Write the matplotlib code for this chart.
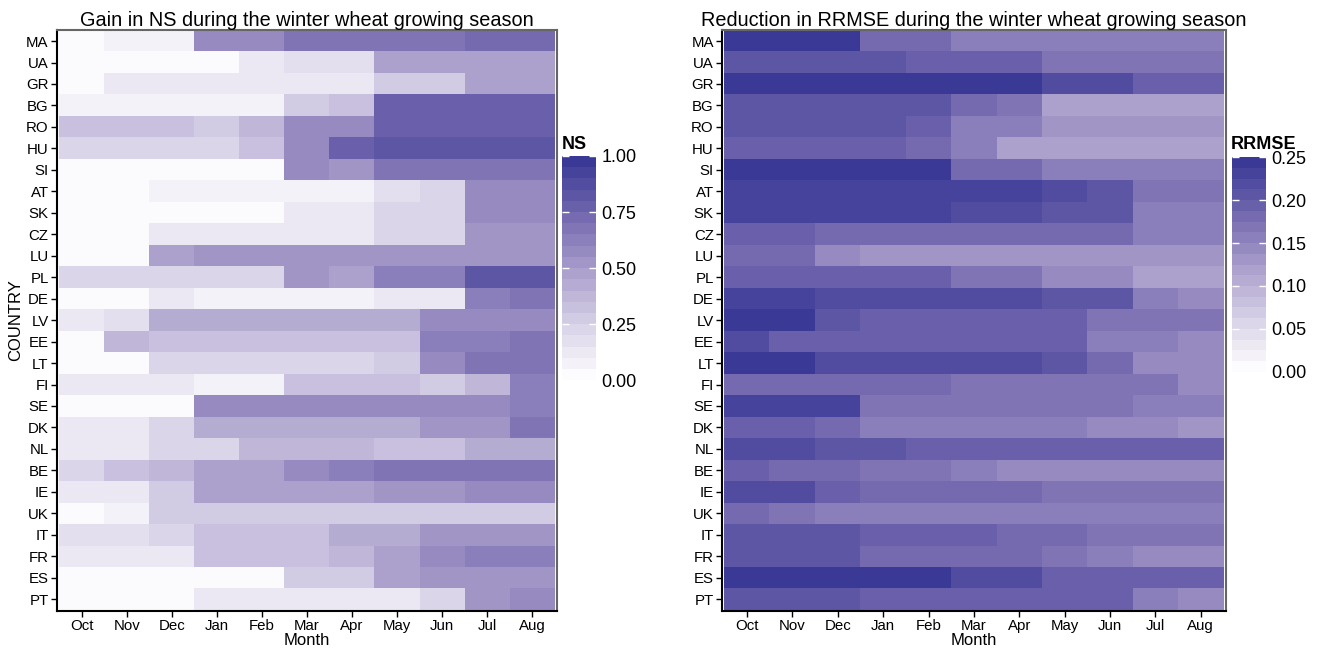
import numpy as np
import matplotlib
matplotlib.use("Agg")
import matplotlib.pyplot as plt
from matplotlib.colors import LinearSegmentedColormap, BoundaryNorm

plt.rcParams['font.family'] = ['Liberation Sans', 'DejaVu Sans']

countries = ["MA", "UA", "GR", "BG", "RO", "HU", "SI", "AT", "SK", "CZ", "LU", "PL", "DE",
             "LV", "EE", "LT", "FI", "SE", "DK", "NL", "BE", "IE", "UK", "IT", "FR", "ES", "PT"]
months = ["Oct", "Nov", "Dec", "Jan", "Feb", "Mar", "Apr", "May", "Jun", "Jul", "Aug"]

ns_gain = [
    [0.00, 0.05, 0.05, 0.55, 0.55, 0.68, 0.68, 0.68, 0.68, 0.72, 0.72],  # MA
    [0.00, 0.00, 0.00, 0.00, 0.12, 0.17, 0.17, 0.45, 0.45, 0.45, 0.45],  # UA
    [0.00, 0.10, 0.10, 0.10, 0.12, 0.15, 0.15, 0.30, 0.30, 0.45, 0.45],  # GR
    [0.06, 0.06, 0.06, 0.06, 0.06, 0.25, 0.35, 0.75, 0.75, 0.75, 0.75],  # BG
    [0.35, 0.33, 0.33, 0.30, 0.38, 0.60, 0.58, 0.75, 0.75, 0.75, 0.75],  # RO
    [0.20, 0.20, 0.20, 0.20, 0.35, 0.58, 0.75, 0.80, 0.80, 0.80, 0.80],  # HU
    [0.00, 0.00, 0.00, 0.00, 0.00, 0.55, 0.50, 0.65, 0.65, 0.65, 0.65],  # SI
    [0.02, 0.02, 0.05, 0.05, 0.05, 0.05, 0.05, 0.17, 0.22, 0.58, 0.58],  # AT
    [0.00, 0.00, 0.00, 0.00, 0.00, 0.10, 0.12, 0.20, 0.20, 0.60, 0.60],  # SK
    [0.00, 0.00, 0.15, 0.15, 0.15, 0.15, 0.15, 0.22, 0.22, 0.50, 0.50],  # CZ
    [0.00, 0.00, 0.45, 0.50, 0.50, 0.50, 0.50, 0.50, 0.50, 0.50, 0.50],  # LU
    [0.20, 0.20, 0.20, 0.22, 0.22, 0.50, 0.48, 0.62, 0.62, 0.80, 0.80],  # PL
    [0.00, 0.00, 0.10, 0.08, 0.08, 0.08, 0.08, 0.12, 0.12, 0.62, 0.68],  # DE
    [0.10, 0.17, 0.40, 0.42, 0.42, 0.42, 0.42, 0.42, 0.60, 0.60, 0.60],  # LV
    [0.01, 0.37, 0.35, 0.35, 0.35, 0.35, 0.35, 0.35, 0.62, 0.62, 0.70],  # EE
    [0.00, 0.00, 0.20, 0.20, 0.20, 0.20, 0.20, 0.30, 0.58, 0.68, 0.68],  # LT
    [0.10, 0.10, 0.10, 0.08, 0.08, 0.32, 0.32, 0.32, 0.30, 0.38, 0.62],  # FI
    [0.00, 0.02, 0.02, 0.57, 0.57, 0.57, 0.57, 0.57, 0.57, 0.60, 0.62],  # SE
    [0.13, 0.13, 0.20, 0.42, 0.42, 0.42, 0.42, 0.42, 0.52, 0.52, 0.65],  # DK
    [0.13, 0.13, 0.22, 0.22, 0.37, 0.37, 0.37, 0.35, 0.35, 0.40, 0.40],  # NL
    [0.22, 0.35, 0.38, 0.45, 0.45, 0.55, 0.62, 0.68, 0.68, 0.68, 0.68],  # BE
    [0.12, 0.12, 0.30, 0.45, 0.45, 0.45, 0.45, 0.52, 0.52, 0.55, 0.55],  # IE
    [0.00, 0.08, 0.27, 0.27, 0.27, 0.27, 0.27, 0.27, 0.30, 0.30, 0.30],  # UK
    [0.18, 0.18, 0.22, 0.35, 0.35, 0.35, 0.42, 0.42, 0.52, 0.52, 0.52],  # IT
    [0.12, 0.12, 0.12, 0.35, 0.35, 0.35, 0.38, 0.45, 0.55, 0.62, 0.62],  # FR
    [0.00, 0.00, 0.00, 0.00, 0.00, 0.30, 0.28, 0.45, 0.52, 0.52, 0.50],  # ES
    [0.00, 0.00, 0.00, 0.15, 0.15, 0.15, 0.15, 0.15, 0.22, 0.50, 0.55],  # PT
]

rrmse_red = [
    [0.245, 0.245, 0.245, 0.180, 0.180, 0.162, 0.162, 0.162, 0.162, 0.157, 0.157],  # MA
    [0.205, 0.205, 0.205, 0.205, 0.195, 0.190, 0.190, 0.165, 0.165, 0.165, 0.165],  # UA
    [0.245, 0.245, 0.245, 0.245, 0.243, 0.240, 0.240, 0.220, 0.220, 0.195, 0.195],  # GR
    [0.200, 0.200, 0.200, 0.200, 0.200, 0.187, 0.175, 0.120, 0.120, 0.120, 0.120],  # BG
    [0.200, 0.200, 0.200, 0.200, 0.198, 0.162, 0.162, 0.132, 0.132, 0.132, 0.132],  # RO
    [0.198, 0.198, 0.198, 0.198, 0.185, 0.158, 0.118, 0.118, 0.118, 0.118, 0.118],  # HU
    [0.245, 0.245, 0.245, 0.245, 0.245, 0.180, 0.180, 0.162, 0.162, 0.162, 0.162],  # SI
    [0.228, 0.228, 0.230, 0.230, 0.230, 0.232, 0.232, 0.215, 0.205, 0.165, 0.165],  # AT
    [0.230, 0.230, 0.230, 0.230, 0.230, 0.222, 0.222, 0.212, 0.212, 0.162, 0.162],  # SK
    [0.195, 0.195, 0.180, 0.180, 0.180, 0.180, 0.180, 0.177, 0.177, 0.157, 0.157],  # CZ
    [0.178, 0.178, 0.140, 0.130, 0.130, 0.130, 0.130, 0.130, 0.130, 0.130, 0.130],  # LU
    [0.195, 0.195, 0.195, 0.190, 0.190, 0.163, 0.163, 0.145, 0.145, 0.115, 0.115],  # PL
    [0.228, 0.228, 0.217, 0.220, 0.220, 0.220, 0.220, 0.210, 0.210, 0.156, 0.138],  # DE
    [0.245, 0.238, 0.200, 0.195, 0.195, 0.195, 0.195, 0.195, 0.168, 0.168, 0.168],  # LV
    [0.222, 0.190, 0.190, 0.190, 0.190, 0.190, 0.190, 0.190, 0.155, 0.155, 0.140],  # EE
    [0.245, 0.245, 0.218, 0.218, 0.218, 0.218, 0.218, 0.210, 0.178, 0.150, 0.150],  # LT
    [0.187, 0.187, 0.187, 0.187, 0.187, 0.168, 0.168, 0.168, 0.168, 0.165, 0.140],  # FI
    [0.237, 0.237, 0.233, 0.165, 0.165, 0.165, 0.165, 0.165, 0.165, 0.160, 0.160],  # SE
    [0.190, 0.190, 0.180, 0.162, 0.162, 0.162, 0.162, 0.162, 0.150, 0.150, 0.137],  # DK
    [0.220, 0.220, 0.200, 0.200, 0.190, 0.190, 0.190, 0.190, 0.190, 0.189, 0.189],  # NL
    [0.193, 0.180, 0.180, 0.175, 0.175, 0.160, 0.148, 0.140, 0.140, 0.140, 0.140],  # BE
    [0.215, 0.215, 0.195, 0.180, 0.180, 0.180, 0.180, 0.170, 0.170, 0.167, 0.167],  # IE
    [0.177, 0.167, 0.157, 0.157, 0.157, 0.157, 0.157, 0.157, 0.154, 0.154, 0.154],  # UK
    [0.210, 0.210, 0.200, 0.190, 0.190, 0.190, 0.187, 0.187, 0.175, 0.175, 0.175],  # IT
    [0.200, 0.200, 0.200, 0.178, 0.178, 0.178, 0.178, 0.170, 0.157, 0.140, 0.140],  # FR
    [0.248, 0.248, 0.248, 0.248, 0.248, 0.222, 0.222, 0.195, 0.190, 0.190, 0.190],  # ES
    [0.210, 0.210, 0.210, 0.197, 0.197, 0.197, 0.197, 0.197, 0.190, 0.162, 0.150],  # PT
]

base = LinearSegmentedColormap.from_list(
    "pur", ["#FFFFFF", "#D7D1E7", "#A99ECB", "#7468AF", "#3A3A96"])
nbins = 20
cmap = LinearSegmentedColormap.from_list("pur20", base(np.linspace(0.02, 1, nbins)), N=nbins)

fig = plt.figure(figsize=(13.36, 6.5), dpi=100)

def panel(rect, crect, data, vmax, ticks, ticklabels, title, cbtitle, ylabel, cbt_xy):
    ax = fig.add_axes(rect)
    arr = np.array(data)
    norm = BoundaryNorm(np.linspace(0, vmax, nbins + 1), nbins)
    im = ax.imshow(arr, cmap=cmap, norm=norm, aspect='auto', interpolation='nearest')
    ax.set_xlim(-0.55, len(months) - 0.45)
    ax.set_ylim(len(countries) - 0.45, -0.52)
    ax.set_xticks(range(len(months)))
    ax.set_xticklabels(months, fontsize=10.8)
    ax.set_yticks(range(len(countries)))
    ax.set_yticklabels(countries, fontsize=10.8)
    ax.tick_params(length=4, width=1, color='black', pad=2)
    for s in ax.spines.values():
        s.set_color('#666666')
        s.set_linewidth(1.5)
    ax.spines['left'].set_color('black')
    ax.spines['bottom'].set_color('black')
    ax.set_xlabel("Month", fontsize=12, labelpad=0)
    if ylabel:
        ax.set_ylabel(ylabel, fontsize=12, labelpad=2)
    ax.set_title(title, fontsize=14.3, pad=3)
    cax = fig.add_axes(crect)
    cb = fig.colorbar(im, cax=cax, ticks=ticks)
    cb.outline.set_visible(False)
    cax.minorticks_off()
    cax.set_yticks(ticks)
    cax.set_yticklabels(ticklabels, fontsize=13)
    cax.tick_params(left=True, right=True, direction='in', color='white', length=5, width=1, pad=4)
    fig.text(cbt_xy[0], cbt_xy[1], cbtitle, fontsize=13, fontweight='bold', ha='left', va='bottom')
    return ax

panel([0.0427, 0.060, 0.374, 0.894], [0.4207, 0.415, 0.0255, 0.345],
      ns_gain, 1.0, [0, 0.25, 0.5, 0.75, 1.0], ["0.00", "0.25", "0.50", "0.75", "1.00"],
      "Gain in NS during the winter wheat growing season", "NS", "COUNTRY", (0.4207, 0.765))

panel([0.5405, 0.060, 0.377, 0.894], [0.922, 0.428, 0.0255, 0.330],
      rrmse_red, 0.25, [0, 0.05, 0.10, 0.15, 0.20, 0.25],
      ["0.00", "0.05", "0.10", "0.15", "0.20", "0.25"],
      "Reduction in RRMSE during the winter wheat growing season", "RRMSE", None, (0.921, 0.765))

fig.savefig("out.png", dpi=100)
